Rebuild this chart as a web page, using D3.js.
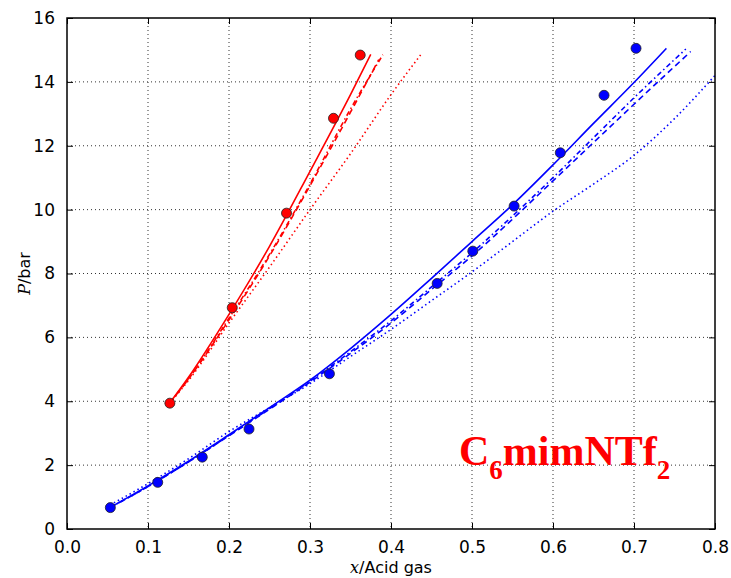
<!DOCTYPE html>
<html>
<head>
<meta charset="utf-8">
<script src="https://cdn.jsdelivr.net/npm/d3@7"></script>
<style>
  body { margin: 0; background: #fff; }
</style>
</head>
<body>
<svg id="chart"></svg>
<script>
// measured points
var redPoints = [[0.127, 3.94], [0.204, 6.93], [0.271, 9.89], [0.329, 12.86], [0.362, 14.84]];
var bluePoints = [[0.0535, 0.67], [0.112, 1.46], [0.167, 2.25], [0.2247, 3.13], [0.324, 4.86],
                  [0.457, 7.69], [0.501, 8.70], [0.552, 10.11], [0.609, 11.78], [0.663, 13.58], [0.7025, 15.05]];

// model curves
var redSolid   = [[0.127, 3.95], [0.15, 4.75], [0.2, 6.72], [0.25, 8.85], [0.3, 11.2], [0.35, 13.6], [0.375, 14.86]];
var redDashed  = [[0.127, 3.95], [0.15, 4.7], [0.2, 6.55], [0.25, 8.55], [0.3, 10.75], [0.35, 13.05], [0.385, 14.7]];
var redDashDot = [[0.127, 3.95], [0.15, 4.7], [0.2, 6.6], [0.25, 8.6], [0.3, 10.8], [0.35, 13.15], [0.39, 14.85]];
var redDotted  = [[0.127, 3.95], [0.15, 4.65], [0.2, 6.45], [0.25, 8.2], [0.3, 10.0], [0.35, 11.75], [0.4, 13.6], [0.437, 14.86]];

var blueSolid   = [[0.053, 0.67], [0.1, 1.35], [0.15, 2.12], [0.2, 2.95], [0.25, 3.8], [0.3, 4.66], [0.35, 5.65], [0.4, 6.72],
                   [0.45, 7.85], [0.5, 9.0], [0.55, 10.15], [0.6, 11.4], [0.65, 12.7], [0.7, 13.98], [0.74, 15.05]];
var blueDashed  = [[0.053, 0.67], [0.1, 1.33], [0.15, 2.1], [0.2, 2.92], [0.25, 3.75], [0.3, 4.6], [0.35, 5.5], [0.4, 6.45],
                   [0.45, 7.5], [0.5, 8.55], [0.55, 9.7], [0.6, 10.9], [0.65, 12.1], [0.7, 13.3], [0.77, 14.95]];
var blueDashDot = [[0.053, 0.67], [0.1, 1.33], [0.15, 2.1], [0.2, 2.93], [0.25, 3.77], [0.3, 4.63], [0.35, 5.55], [0.4, 6.52],
                   [0.45, 7.58], [0.5, 8.65], [0.55, 9.8], [0.6, 11.0], [0.65, 12.25], [0.7, 13.5], [0.764, 15.03]];
var blueDotted  = [[0.053, 0.75], [0.1, 1.42], [0.15, 2.2], [0.2, 3.05], [0.25, 3.8], [0.3, 4.55], [0.35, 5.4], [0.4, 6.25],
                   [0.45, 7.15], [0.5, 8.05], [0.55, 9.0], [0.6, 9.95], [0.65, 10.8], [0.7, 11.7], [0.75, 12.85], [0.8, 14.2]];

var xTicks = [0, 0.1, 0.2, 0.3, 0.4, 0.5, 0.6, 0.7, 0.8];
var yTicks = [0, 2, 4, 6, 8, 10, 12, 14, 16];

var width = 731, height = 578;
var margin = { top: 18, right: 16, bottom: 49, left: 67 };
var w = width - margin.left - margin.right,
    h = height - margin.top - margin.bottom;

var sans = "'DejaVu Sans', sans-serif",
    serif = "'DejaVu Serif', serif";

var svg = d3.select("#chart")
            .attr("width", width)
            .attr("height", height)
            .style("font-family", sans);

var g = svg.append("g")
           .attr("transform", "translate(" + margin.left + "," + margin.top + ")");

var x = d3.scaleLinear().domain([0, 0.8]).range([0, w]);
var y = d3.scaleLinear().domain([0, 16]).range([h, 0]);

// grid
g.append("g").selectAll("line")
 .data(xTicks.slice(1, -1))
 .enter().append("line")
 .attr("x1", d => x(d)).attr("x2", d => x(d))
 .attr("y1", 0).attr("y2", h)
 .attr("stroke", "#333").attr("stroke-width", 1)
 .attr("stroke-dasharray", "1,3");

g.append("g").selectAll("line")
 .data(yTicks.slice(1, -1))
 .enter().append("line")
 .attr("x1", 0).attr("x2", w)
 .attr("y1", d => y(d)).attr("y2", d => y(d))
 .attr("stroke", "#333").attr("stroke-width", 1)
 .attr("stroke-dasharray", "1,3");

// curves
var line = d3.line()
             .x(d => x(d[0]))
             .y(d => y(d[1]))
             .curve(d3.curveMonotoneX);

var curves = [
  { data: redSolid, color: "#ff0000", dash: null },
  { data: redDashed, color: "#ff0000", dash: "6,4" },
  { data: redDashDot, color: "#ff0000", dash: "5,3,1.5,3" },
  { data: redDotted, color: "#ff0000", dash: "1.5,3" },
  { data: blueSolid, color: "#0000ff", dash: null },
  { data: blueDashed, color: "#0000ff", dash: "6,4" },
  { data: blueDashDot, color: "#0000ff", dash: "5,3,1.5,3" },
  { data: blueDotted, color: "#0000ff", dash: "1.5,3" }
];

g.append("g").selectAll("path")
 .data(curves)
 .enter().append("path")
 .attr("d", d => line(d.data))
 .attr("fill", "none")
 .attr("stroke", d => d.color)
 .attr("stroke-width", 1.6)
 .attr("stroke-dasharray", d => d.dash);

// markers
g.append("g").selectAll("circle")
 .data(redPoints)
 .enter().append("circle")
 .attr("cx", d => x(d[0])).attr("cy", d => y(d[1]))
 .attr("r", 5)
 .attr("fill", "#ff0000").attr("stroke", "#222").attr("stroke-width", 0.8);

g.append("g").selectAll("circle")
 .data(bluePoints)
 .enter().append("circle")
 .attr("cx", d => x(d[0])).attr("cy", d => y(d[1]))
 .attr("r", 5)
 .attr("fill", "#0000ff").attr("stroke", "#222").attr("stroke-width", 0.8);

// axes (ticks inside, on all four sides)
function styleAxis(sel) {
  sel.select(".domain").remove();
  sel.selectAll(".tick line").attr("stroke", "#000").attr("stroke-width", 1);
  sel.selectAll("text").attr("fill", "#000")
     .style("font-size", "17px").style("font-family", sans);
}

g.append("g")
 .attr("transform", "translate(0," + h + ")")
 .call(d3.axisBottom(x).tickValues(xTicks).tickFormat(d3.format(".1f"))
        .tickSizeInner(-6).tickSizeOuter(0).tickPadding(12))
 .call(styleAxis);

g.append("g")
 .call(d3.axisTop(x).tickValues(xTicks).tickFormat("")
        .tickSizeInner(-6).tickSizeOuter(0))
 .call(styleAxis);

g.append("g")
 .call(d3.axisLeft(y).tickValues(yTicks).tickFormat(d3.format("d"))
        .tickSizeInner(-6).tickSizeOuter(0).tickPadding(12))
 .call(styleAxis);

g.append("g")
 .attr("transform", "translate(" + w + ",0)")
 .call(d3.axisRight(y).tickValues(yTicks).tickFormat("")
        .tickSizeInner(-6).tickSizeOuter(0))
 .call(styleAxis);

// frame
g.append("rect")
 .attr("width", w).attr("height", h)
 .attr("fill", "none").attr("stroke", "#000").attr("stroke-width", 1.5);

// axis labels
var xl = svg.append("text")
            .attr("x", margin.left + w / 2)
            .attr("y", 573)
            .attr("text-anchor", "middle")
            .style("font-size", "16px");
xl.append("tspan").style("font-family", serif).style("font-style", "italic").text("x");
xl.append("tspan").text("/Acid gas");

var yl = svg.append("text")
            .attr("transform", "translate(30," + (margin.top + h / 2) + ") rotate(-90)")
            .attr("text-anchor", "middle")
            .style("font-size", "16px");
yl.append("tspan").style("font-family", serif).style("font-style", "italic").text("P");
yl.append("tspan").text("/bar");

// compound label
var lab = svg.append("text")
             .attr("x", 459).attr("y", 465)
             .attr("fill", "#ff0000")
             .style("font-family", "'Liberation Serif', 'Times New Roman', serif")
             .style("font-weight", "bold")
             .style("font-size", "42px");
lab.append("tspan").text("C");
lab.append("tspan").style("font-size", "27px").attr("dy", 14).text("6");
lab.append("tspan").attr("dy", -14).text("mimNTf");
lab.append("tspan").style("font-size", "27px").attr("dy", 14).text("2");
</script>
</body>
</html>
